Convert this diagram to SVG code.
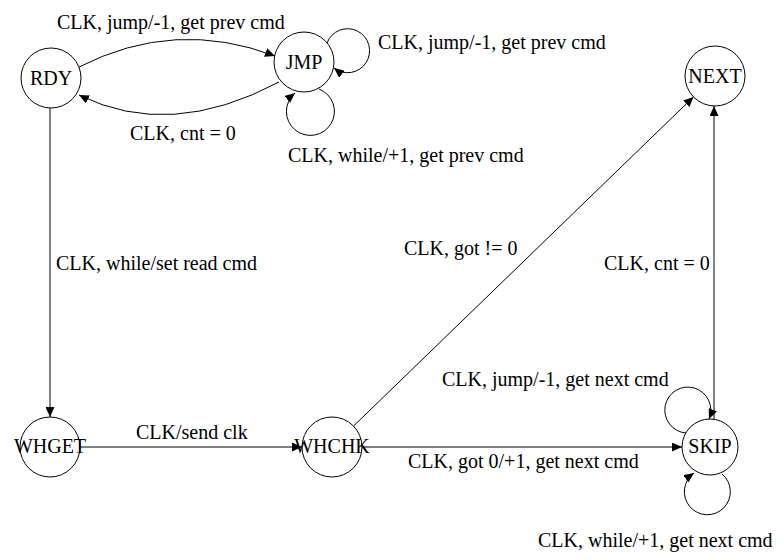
<svg xmlns="http://www.w3.org/2000/svg" width="783" height="559" viewBox="0 0 783 559">
<style>
.n{fill:#fff;stroke:#000;stroke-width:1}
.t{font-family:'Liberation Serif','Times New Roman',Times,serif;font-size:20px;fill:#000}
.c{text-anchor:middle}
.e{fill:none;stroke:#000;stroke-width:1}
</style>
<defs>
<marker id="a" markerUnits="userSpaceOnUse" markerWidth="11" markerHeight="9" refX="10" refY="4.5" orient="auto" viewBox="0 0 11 9">
<path d="M0,0 L10,4.5 L0,9 z" fill="#000"/>
</marker>
</defs>
<rect width="783" height="559" fill="#fff"/>
<g id="nodes-circles">
<g id="RDY"><circle class="n" cx="51" cy="78" r="30"/></g>
<g id="JMP"><circle class="n" cx="304" cy="62" r="30"/></g>
<g id="NEXT"><circle class="n" cx="715" cy="76" r="30"/></g>
<g id="WHGET"><circle class="n" cx="50" cy="447" r="30"/></g>
<g id="WHCHK"><circle class="n" cx="332" cy="447" r="30"/></g>
<g id="SKIP"><circle class="n" cx="710" cy="447" r="28"/></g>
</g>
<g id="connectors">
<path class="e" d="M79 67 Q175 18 275 56" marker-end="url(#a)"/>
<path class="e" d="M279 82 Q170 140 79 95" marker-end="url(#a)"/>
<path class="e" d="M327 43 A22 22 0 1 1 334 68" marker-end="url(#a)"/>
<path class="e" d="M319 89 A24 24 0 1 1 295 93" marker-end="url(#a)"/>
<path class="e" d="M50 108 L50 417" marker-end="url(#a)"/>
<path class="e" d="M80 447 L302 447" marker-end="url(#a)"/>
<path class="e" d="M362 447 L682 447" marker-end="url(#a)"/>
<path class="e" d="M353.5 426.1 L693.5 96.9" marker-end="url(#a)"/>
<path class="e" d="M714 419 L714 106" marker-end="url(#a)"/>
<path class="e" d="M686 433 A23 23 0 1 1 709 419" marker-end="url(#a)"/>
<path class="e" d="M722 474 A23 23 0 1 1 694 473" marker-end="url(#a)"/>
</g>
<g id="labels">
<text class="t" x="57" y="29">CLK, jump/-1, get prev cmd</text>
<text class="t" x="378" y="49">CLK, jump/-1, get prev cmd</text>
<text class="t" x="130" y="140">CLK, cnt = 0</text>
<text class="t" x="288" y="162">CLK, while/+1, get prev cmd</text>
<text class="t" x="56" y="270">CLK, while/set read cmd</text>
<text class="t" x="404" y="255">CLK, got != 0</text>
<text class="t" x="604" y="270">CLK, cnt = 0</text>
<text class="t" x="442" y="386">CLK, jump/-1, get next cmd</text>
<text class="t" x="136" y="439">CLK/send clk</text>
<text class="t" x="408" y="468">CLK, got 0/+1, get next cmd</text>
<text class="t" x="538" y="547">CLK, while/+1, get next cmd</text>
</g>
<g id="node-labels">
<text class="t c" x="51" y="85">RDY</text>
<text class="t c" x="304" y="69">JMP</text>
<text class="t c" x="715" y="83">NEXT</text>
<text class="t c" x="50" y="453">WHGET</text>
<text class="t c" x="332" y="453">WHCHK</text>
<text class="t c" x="710" y="453">SKIP</text>
</g>
</svg>
